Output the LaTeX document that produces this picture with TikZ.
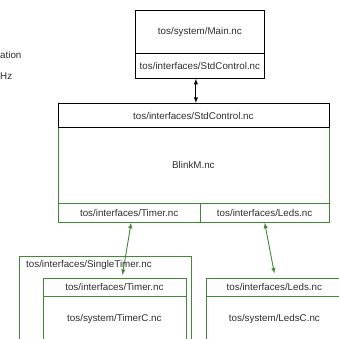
\documentclass[tikz,border=0pt]{standalone}
\usepackage{fontspec}
\setmainfont{Liberation Sans}
\usepackage{tikz}
\usetikzlibrary{calc}
\definecolor{wiregreen}{RGB}{64,138,52}
\definecolor{labelgray}{RGB}{45,45,45}

\begin{document}
\begin{tikzpicture}[x=1pt,y=-1pt,
	  font=\fontsize{9.8}{11}\selectfont, text=labelgray,
	  comp/.style={draw,line width=.8pt,inner sep=0pt,anchor=north west},
	  gcomp/.style={comp,draw=wiregreen},
	  link/.style={<->,>=latex,line width=.9pt}]
	  \useasboundingbox (0,0) rectangle (339,339);
	  \clip (0,0) rectangle (339,339);
	  % text at the left border
	  \node[anchor=west,inner sep=0pt] (cutation) at (0,55) {ation};
	  \node[anchor=west,inner sep=0pt] (cuthz) at (0,76) {Hz};
	  % Main
	  \node[comp,minimum width=129pt,minimum height=43pt] (mainbody) at (135,10) {tos/system/Main.nc};
	  \node[comp,minimum width=129pt,minimum height=25pt] (mainif) at (135,53) {tos/interfaces/StdControl.nc};
	  % BlinkM
	  \node[gcomp,minimum width=271pt,minimum height=75pt] (blinkbody) at (57.5,127.5) {BlinkM.nc};
	  \node[gcomp,minimum width=142.5pt,minimum height=19.5pt] (blinktimer) at (57.5,202.5) {tos/interfaces/Timer.nc};
	  \node[gcomp,minimum width=128.5pt,minimum height=19.5pt] (blinkleds) at (200,202.5) {tos/interfaces/Leds.nc};
	  \node[comp,minimum width=271pt,minimum height=24.5pt] (blinkif) at (57.5,103) {tos/interfaces/StdControl.nc};
	  % SingleTimer / TimerC
	  \node[gcomp,minimum width=172pt,minimum height=100pt] (single) at (18.5,256) {};
	  \node[anchor=west,inner sep=0pt] (singlename) at ($(single.north west)+(7.5,9)$) {tos/interfaces/SingleTimer.nc};
	  \node[gcomp,minimum width=143pt,minimum height=18pt] (timerif) at (42.5,277.5) {tos/interfaces/Timer.nc};
	  \node[gcomp,minimum width=143pt,minimum height=47pt] (timerbody) at (42.5,295.5) {tos/system/TimerC.nc};
	  % LedsC
	  \node[gcomp,minimum width=137pt,minimum height=18pt] (ledsif) at (205.5,277.5) {tos/interfaces/Leds.nc};
	  \node[gcomp,minimum width=137pt,minimum height=47pt] (ledsbody) at (205.5,295.5) {tos/system/LedsC.nc};
	  % wiring
	  \draw[link] ([xshift=-4pt]mainif.south) -- ([xshift=-4pt]mainif.south |- blinkif.north);
	  \draw[link,wiregreen] ([xshift=2pt]blinktimer.south) -- ([xshift=8pt,yshift=2.5pt]timerif.north);
	  \draw[link,wiregreen] (blinkleds.south) -- ([yshift=4pt]ledsif.north);
	\end{tikzpicture}
\end{document}
